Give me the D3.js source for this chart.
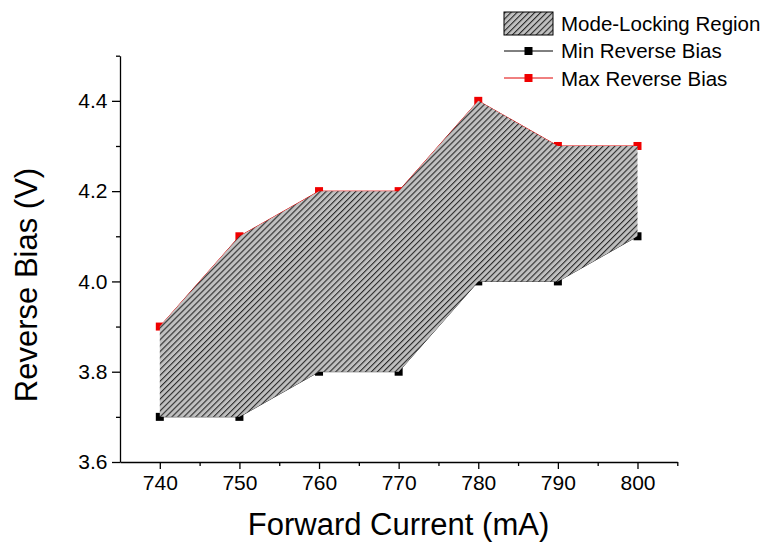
<!DOCTYPE html>
<html>
<head>
<meta charset="utf-8">
<script src="https://cdn.jsdelivr.net/npm/d3@7"></script>
<style>
  html, body { margin: 0; padding: 0; background: #fff; }
  svg { display: block; font-family: "Liberation Sans", Arial, sans-serif; }
</style>
</head>
<body>
<svg id="chart" width="778" height="543"></svg>
<script>
// Forward current (mA) and the reverse-bias limits of mode-locking (V)
const current = [740, 750, 760, 770, 780, 790, 800];
const minBias = [3.7, 3.7, 3.8, 3.8, 4.0, 4.0, 4.1];
const maxBias = [3.9, 4.1, 4.2, 4.2, 4.4, 4.3, 4.3];

const xMajor = [740, 750, 760, 770, 780, 790, 800];
const xMinor = [745, 755, 765, 775, 785, 795, 805];
const yMajor = [3.6, 3.8, 4.0, 4.2, 4.4];
const yMinor = [3.7, 3.9, 4.1, 4.3, 4.5];

const legendLabels = ["Mode-Locking Region", "Min Reverse Bias", "Max Reverse Bias"];

const rows = current.map((c, i) => ({ c, lo: minBias[i], hi: maxBias[i] }));

const svg = d3.select("#chart");

const x = d3.scaleLinear().domain([735, 805]).range([120, 677.3]);
const y = d3.scaleLinear().domain([3.6, 4.5]).range([462, 55.7]);

// diagonal hatch for the region fill
const defs = svg.append("defs");
const pat = defs.append("pattern")
  .attr("id", "hatch")
  .attr("patternUnits", "userSpaceOnUse")
  .attr("width", 4.2).attr("height", 4.2)
  .attr("patternTransform", "rotate(45)");
pat.append("rect").attr("width", 4.2).attr("height", 4.2).attr("fill", "#c0c0c0");
pat.append("rect").attr("x", 0).attr("width", 1.1).attr("height", 4.2).attr("fill", "#2a2a2a");

// limit lines and their markers sit beneath the shaded region
const lineLo = d3.line().x(d => x(d.c)).y(d => y(d.lo));
const lineHi = d3.line().x(d => x(d.c)).y(d => y(d.hi));
svg.append("path").datum(rows).attr("d", lineLo)
  .attr("fill", "none").attr("stroke", "#000").attr("stroke-width", 0.8);
svg.append("path").datum(rows).attr("d", lineHi)
  .attr("fill", "none").attr("stroke", "#e00000").attr("stroke-width", 1);

const ms = 8;
svg.append("g").selectAll("rect").data(rows).join("rect")
  .attr("x", d => x(d.c) - ms / 2).attr("y", d => y(d.lo) - ms / 2)
  .attr("width", ms).attr("height", ms).attr("fill", "#000");
svg.append("g").selectAll("rect").data(rows).join("rect")
  .attr("x", d => x(d.c) - ms / 2).attr("y", d => y(d.hi) - ms / 2)
  .attr("width", ms).attr("height", ms).attr("fill", "#f00000");

const area = d3.area().x(d => x(d.c)).y0(d => y(d.lo)).y1(d => y(d.hi));
svg.append("path").datum(rows).attr("d", area)
  .attr("fill", "url(#hatch)").attr("stroke", "none");

// axes
const fmt = d3.format(".1f");
function styleAxis(g) {
  g.selectAll("path, line").attr("stroke", "#000").attr("stroke-width", 1.3);
  g.selectAll("text").attr("font-size", 21).attr("fill", "#000")
    .attr("font-family", "'Liberation Sans', Arial, sans-serif");
}

svg.append("g").attr("transform", "translate(0,462)")
  .call(d3.axisBottom(x).tickValues(xMajor).tickSize(7).tickSizeOuter(0).tickPadding(6))
  .call(styleAxis);
svg.append("g").attr("transform", "translate(0,462)")
  .call(d3.axisBottom(x).tickValues(xMinor).tickSize(4).tickSizeOuter(0).tickFormat(""))
  .call(styleAxis)
  .call(g => g.select(".domain").remove());

svg.append("g").attr("transform", "translate(120,0)")
  .call(d3.axisLeft(y).tickValues(yMajor).tickSize(8).tickSizeOuter(0).tickPadding(4.5).tickFormat(fmt))
  .call(styleAxis);
svg.append("g").attr("transform", "translate(120,0)")
  .call(d3.axisLeft(y).tickValues(yMinor).tickSize(4).tickSizeOuter(0).tickFormat(""))
  .call(styleAxis)
  .call(g => g.select(".domain").remove());

// axis titles
svg.append("text")
  .attr("x", 398.5).attr("y", 535)
  .attr("text-anchor", "middle").attr("font-size", 31).attr("fill", "#000")
  .text("Forward Current (mA)");
svg.append("text")
  .attr("transform", "translate(37,285) rotate(-90)")
  .attr("text-anchor", "middle").attr("font-size", 31).attr("fill", "#000")
  .text("Reverse Bias (V)");

// legend
const lg = svg.append("g");
lg.append("rect").attr("x", 504).attr("y", 12).attr("width", 49).attr("height", 23)
  .attr("fill", "url(#hatch)").attr("stroke", "#000").attr("stroke-width", 1);
const rowY = [23.5, 51, 78];
const rowColor = [null, "#000", "#f00000"];
[1, 2].forEach(i => {
  lg.append("line").attr("x1", 504).attr("x2", 553).attr("y1", rowY[i]).attr("y2", rowY[i])
    .attr("stroke", i === 1 ? "#000" : "#e00000").attr("stroke-width", 1);
  lg.append("rect").attr("x", 528.5 - ms / 2).attr("y", rowY[i] - ms / 2)
    .attr("width", ms).attr("height", ms).attr("fill", rowColor[i]);
});
lg.selectAll("text.lbl").data(legendLabels).join("text")
  .attr("class", "lbl")
  .attr("x", 561).attr("y", (d, i) => [30.5, 58, 85.5][i])
  .attr("font-size", 20.5).attr("fill", "#000")
  .text(d => d);
</script>
</body>
</html>
